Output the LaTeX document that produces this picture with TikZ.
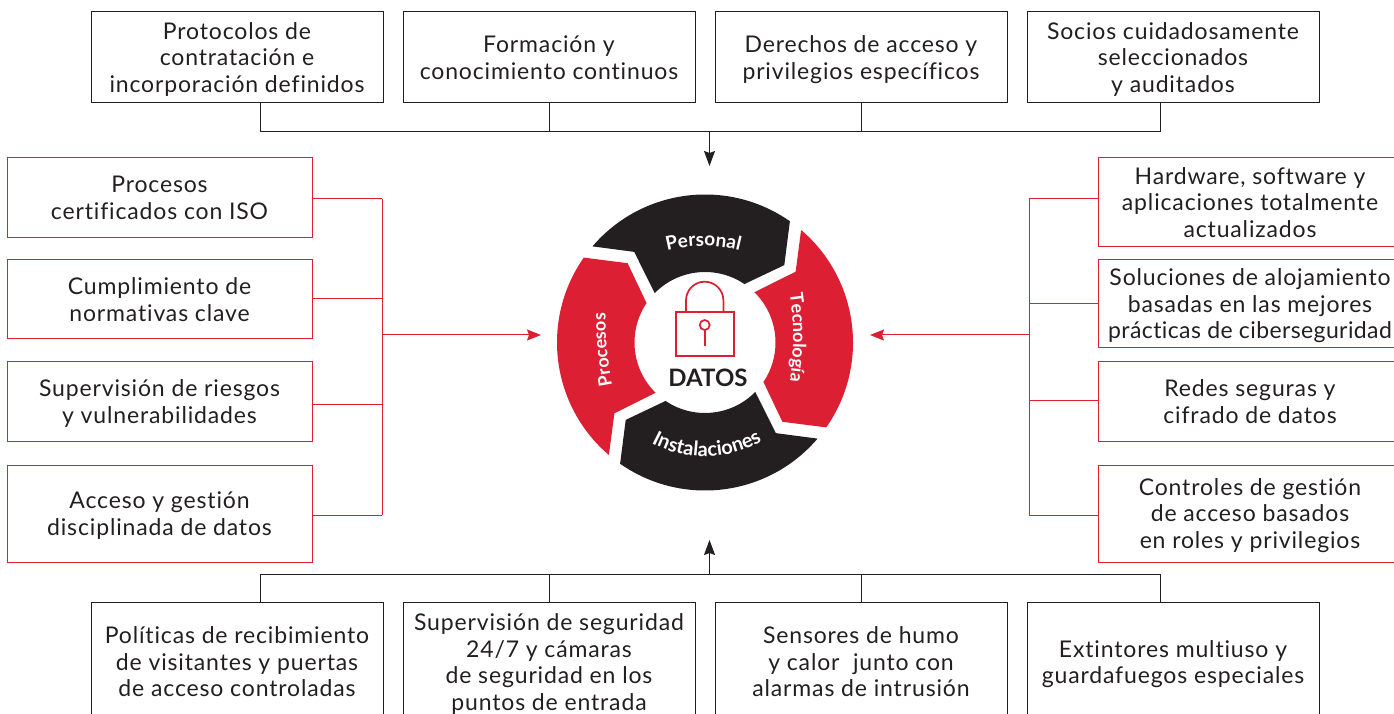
\documentclass[tikz,border=0pt]{standalone}
\usepackage{fontspec}
\setmainfont{Lato}[Ligatures=NoCommon]
\newfontfamily\boxfont{Lato}[LetterSpace=3.7,Ligatures=NoCommon]
\usetikzlibrary{arrows.meta,decorations.text,calc}
\definecolor{rojo}{HTML}{DC1F33}
\definecolor{negro}{HTML}{231F20}
\newcommand{\wheelfont}{\color{white}\bfseries\fontsize{18}{18}\selectfont}
\newcommand{\wheelmid}{\color{white}\bfseries\fontsize{19}{19}\selectfont}
\newcommand{\wheelbig}{\color{white}\bfseries\fontsize{20}{20}\selectfont}

\begin{document}
\begin{tikzpicture}[x=1pt,y=1pt]
\tikzstyle{nbox}=[rectangle,draw=negro,line width=1pt,inner sep=0pt,text=negro,align=center,
  font=\boxfont\fontsize{23}{26.5}\selectfont,minimum width=292pt,text depth=-4.5pt]
\tikzstyle{rbox}=[nbox,draw=rojo,minimum width=305pt]
\tikzstyle{nline}=[draw=negro,line width=1pt]
\tikzstyle{rline}=[draw=rojo,line width=1pt]
\tikzstyle{narrow}=[nline,-{Stealth[length=15pt,width=11pt,inset=2pt]}]
\tikzstyle{rarrow}=[rline,-{Stealth[length=14pt,width=11pt,inset=2pt]}]
\tikzstyle{curved}=[decorate,decoration={text along path,text align=center}]
\useasboundingbox (0,0) rectangle (1394,713);
% top row
\node[nbox,minimum height=91pt] (tproto) at (237,655.5) {Protocolos de\\contratación e\\incorporación definidos};
\node[nbox,minimum height=91pt] (tform)  at (549,655.5) {Formación y\\conocimiento continuos};
\node[nbox,minimum height=91pt] (tderec) at (861,655.5) {Derechos de acceso y\\privilegios específicos};
\node[nbox,minimum height=91pt] (tsocio) at (1173,655.5) {Socios cuidadosamente\\seleccionados\\y auditados};
% left column
\node[rbox,minimum height=80pt] (lproc)  at (159.5,515)   {Procesos\\certificados con ISO};
\node[rbox,minimum height=79pt] (lcumpl) at (159.5,413.5) {Cumplimiento de\\normativas clave};
\node[rbox,minimum height=79pt] (lsuper) at (159.5,311.5) {Supervisión de riesgos\\y vulnerabilidades};
\node[rbox,minimum height=97pt] (lacces) at (159.5,199.5) {Acceso y gestión\\disciplinada de datos};
% right column
\node[rbox,minimum width=304pt,minimum height=89pt] (rhard)  at (1250,510.5) {Hardware, software y\\aplicaciones totalmente\\actualizados};
\node[rbox,minimum width=304pt,minimum height=88pt] (rsoluc) at (1250,409)   {Soluciones de alojamiento\\basadas en las mejores\\\addfontfeature{LetterSpace=1.7}prácticas de ciberseguridad};
\node[rbox,minimum width=304pt,minimum height=79pt] (rredes) at (1250,311.5) {Redes seguras y\\cifrado de datos};
\node[rbox,minimum width=304pt,minimum height=97pt] (rcontr) at (1250,199.5) {Controles de gestión\\de acceso basados\\en roles y privilegios};
% bottom row
\node[nbox,minimum height=120pt] (bpolit) at (237,51)  {Políticas de recibimiento\\de visitantes y puertas\\de acceso controladas};
\node[nbox,minimum height=120pt] (bsuper) at (549,51)  {Supervisión de seguridad\\24/7 y cámaras\\de seguridad en los\\puntos de entrada};
\node[nbox,minimum height=120pt] (bsenso) at (861,51)  {Sensores de humo\\y calor\ \ junto con\\alarmas de intrusión};
\node[nbox,minimum height=120pt] (bextin) at (1173,51) {Extintores multiuso y\\guardafuegos especiales};
% buses
\coordinate (tb1) at (260,581);
\coordinate (tb2) at (549,581);
\coordinate (tb3) at (861,581);
\coordinate (tb4) at (1160,581);
\coordinate (tbm) at (709.5,581);
\coordinate (ttip) at (709.5,547);
\coordinate (bb1) at (260,139);
\coordinate (bb2) at (549,139);
\coordinate (bb3) at (861,139);
\coordinate (bb4) at (1160,139);
\coordinate (bbm) at (709.5,139);
\coordinate (btip) at (709.5,173);
\coordinate (lb1) at (382,514);
\coordinate (lb2) at (382,414);
\coordinate (lb3) at (382,309);
\coordinate (lb4) at (382,198);
\coordinate (lbm) at (382,378);
\coordinate (ltip) at (541,378);
\coordinate (rb1) at (1029,514);
\coordinate (rb2) at (1029,409);
\coordinate (rb3) at (1029,313);
\coordinate (rb4) at (1029,198);
\coordinate (rbm) at (1029,378);
\coordinate (rtip) at (870,378);
\path[nline]
(tb1) edge (tb4)
      edge (tb1 |- tproto.south)
(tb2) edge (tform.south)
(tb3) edge (tderec.south)
(tb4) edge (tb4 |- tsocio.south)
(bb1) edge (bb4)
      edge (bb1 |- bpolit.north)
(bb2) edge (bsuper.north)
(bb3) edge (bsenso.north)
(bb4) edge (bb4 |- bextin.north);
\draw[narrow] (tbm) -- (ttip);
\draw[narrow] (bbm) -- (btip);
\path[rline]
(lb1) edge (lb4)
      edge (lb1 -| lproc.east)
(lb2) edge (lb2 -| lcumpl.east)
(lb3) edge (lb3 -| lsuper.east)
(lb4) edge (lb4 -| lacces.east)
(rb1) edge (rb4)
      edge (rb1 -| rhard.west)
(rb2) edge (rb2 -| rsoluc.west)
(rb3) edge (rb3 -| rredes.west)
(rb4) edge (rb4 -| rcontr.west);
\draw[rarrow] (lbm) -- (ltip);
\draw[rarrow] (rbm) -- (rtip);
% wheel
\begin{scope}[shift={(705,370.5)}]
\foreach \ang/\col in {0/negro,-90/rojo,-180/negro,-270/rojo} {
  \fill[\col,rotate=\ang] (139.5:148pt) arc[start angle=139.5,end angle=55,radius=148pt]
    -- (44.3:110.8pt) -- (56:70.5pt) arc[start angle=56,end angle=135.5,radius=70.5pt]
    -- (128:115pt) -- cycle;
}
\path[curved,decoration={text={|\wheelbig|Instalaciones}}] (-139:114pt) arc[start angle=-139,end angle=-39,radius=114pt];
\end{scope}
\path[curved,decoration={text={|\wheelmid|Personal}}] (657,459.6) to[bend left=16] (750,459.6);
\path[curved,decoration={text={|\wheelfont|Tecnología}}] (789,426) to[bend left=8] (789,325);
\path[curved,decoration={text={|\wheelfont|Procesos}}] (614.5,316) to[bend left=6] (605.5,412);
% lock
\draw[rojo,line width=1.7pt] (675.7,356.7) rectangle (734.3,400.7);
\draw[rojo,line width=1.7pt] (686,400.7) -- (686,412.6) arc[start angle=180,end angle=0,radius=18.7pt] -- (723.4,400.7);
\draw[rojo,line width=1.7pt] (704.7,388) circle[radius=5pt];
\draw[rojo,line width=1.7pt] (704.7,383) -- (704.7,367);
\node[text=negro,inner sep=0pt,font=\bfseries\fontsize{24}{24}\selectfont] (datos) at (708,335.3) {DATOS};
\end{tikzpicture}
\end{document}
